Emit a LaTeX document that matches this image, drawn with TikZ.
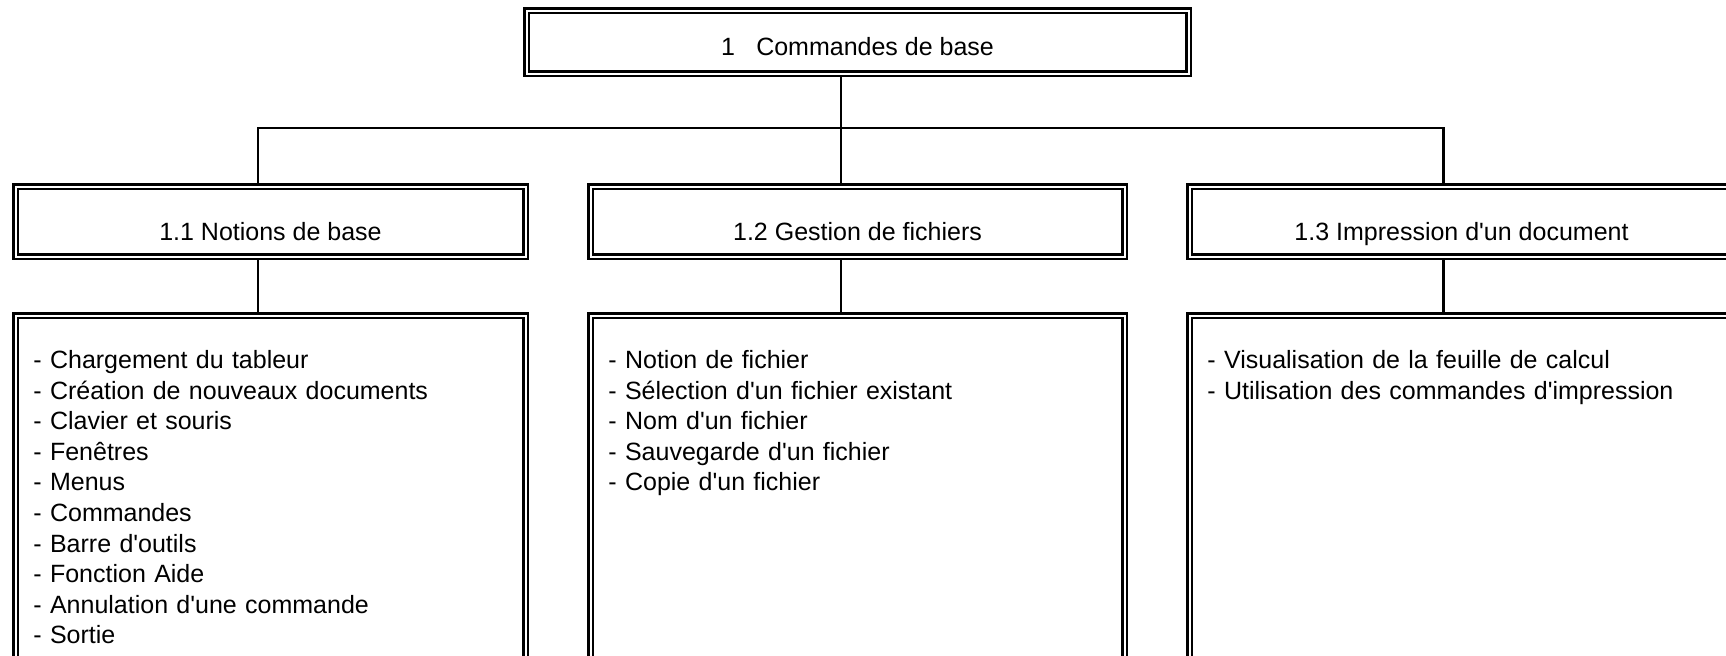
\documentclass[tikz,border=0pt]{standalone}
\usepackage{fontspec}
\setmainfont{Liberation Sans}
\usetikzlibrary{positioning}

\newcommand{\ap}{\textquotesingle}

\tikzset{
  box/.style={draw, double, line width=1.25pt, double distance=1pt, outer sep=1.75pt,
              minimum height=35pt, text height=18.5pt, text depth=0pt},
  topbox/.style={box, minimum width=331pt, minimum height=31.5pt, text height=13pt},
  items/.style={inner sep=0pt, align=left, text width=250pt},
  link/.style={line width=1.35pt}
}

\begin{document}
\begin{tikzpicture}[x=0.5pt, y=-0.5pt, font=\fontsize{12.5}{15.3}\selectfont, node distance=29pt]
  \useasboundingbox (0,0) rectangle (1726,655);
  \clip (0,0) rectangle (1726,655);

  \node[topbox] (top) at (857.5,42) {1\hspace{0.85em}Commandes de base};

  \node[box, minimum width=255pt] (n1) at (270.5,221.5) {1.1 Notions de base};
  \node[box, minimum width=267pt] (n2) [right=of n1]    {1.2 Gestion de fichiers};
  \node[box, minimum width=272pt] (n3) [right=of n2]    {1.3 Impression d\ap un document};

  \node[box, minimum width=255pt, minimum height=200pt] (l1) [below=26pt of n1] {};
  \node[box, minimum width=267pt, minimum height=200pt] (l2) [below=26pt of n2] {};
  \node[box, minimum width=272pt, minimum height=200pt] (l3) [below=26pt of n3] {};

  \node[items] (t1) [below right=19pt and 10.5pt of l1.north west]
    {- Chargement du tableur\\- Création de nouveaux documents\\- Clavier et souris\\- Fenêtres\\- Menus\\- Commandes\\- Barre d\ap outils\\- Fonction Aide\\- Annulation d\ap une commande\\- Sortie};
  \node[items] (t2) [below right=19pt and 10.5pt of l2.north west]
    {- Notion de fichier\\- Sélection d\ap un fichier existant\\- Nom d\ap un fichier\\- Sauvegarde d\ap un fichier\\- Copie d\ap un fichier};
  \node[items] (t3) [below right=19pt and 10.5pt of l3.north west]
    {- Visualisation de la feuille de calcul\\- Utilisation des commandes d\ap impression};

  \coordinate (hub) at (841,128);
  \draw[link] ([xshift=-8.25pt]top.south) -- ([xshift=-8.25pt]n2.north);
  \draw[link] ([xshift=-6.25pt]n1.north) |- (hub) -| ([xshift=-9pt]n3.north);
  \draw[link] ([xshift=-6.25pt]n1.south) -- ([xshift=-6.25pt]l1.north);
  \draw[link] ([xshift=-8.25pt]n2.south) -- ([xshift=-8.25pt]l2.north);
  \draw[link] ([xshift=-9pt]n3.south)    -- ([xshift=-9pt]l3.north);
\end{tikzpicture}
\end{document}
